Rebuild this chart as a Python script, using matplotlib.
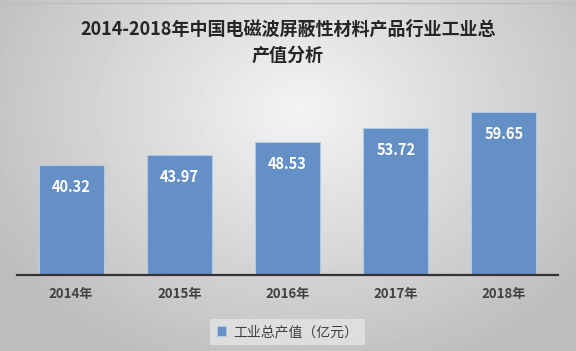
import numpy as np
import matplotlib
matplotlib.use('Agg')
import matplotlib.pyplot as plt

plt.rcParams['font.family'] = ['Noto Sans CJK SC', 'DejaVu Sans']

# ── Data ──────────────────────────────────────────────────────────────────────
years  = ['2014年', '2015年', '2016年', '2017年', '2018年']
values = [40.32, 43.97, 48.53, 53.72, 59.65]
series_name = '工业总产值（亿元）'
title = '2014-2018年中国电磁波屏蔽性材料产品行业工业总\n产值分析'

BAR   = '#6590c6'
EDGE  = '#b4c9e4'
FG    = '#404040'

fig = plt.figure(figsize=(5.76, 3.51), dpi=100)

# ── Radial gray background ────────────────────────────────────────────────────
bg = fig.add_axes([0, 0, 1, 1])
yy, xx = np.mgrid[0:351, 0:576]
r = np.sqrt(((xx - 300) / 330.0) ** 2 + ((yy - 110) / 260.0) ** 2)
shade = np.clip(0.955 - 0.20 * r, 0.74, 0.96)
bg.imshow(shade, cmap='gray', vmin=0, vmax=1, aspect='auto',
          extent=[0, 576, 351, 0])
bg.plot([0, 576], [2.5, 2.5], color='#bdbdbd', lw=1)
bg.set_xlim(0, 576)
bg.set_ylim(351, 0)
bg.axis('off')

fig.text(0.5, 0.88, title, ha='center', va='center', fontsize=13,
         fontweight='bold', color='#262626', linespacing=1.45)

# ── Bars ──────────────────────────────────────────────────────────────────────
ax = fig.add_axes([17 / 576, 76.3 / 351, 541 / 576, 191.3 / 351])
ax.patch.set_alpha(0)
x = np.arange(len(years))
bars = ax.bar(x, values, width=0.6, color=BAR, edgecolor=EDGE,
              linewidth=0.8, label=series_name, zorder=2)
for b, v in zip(bars, values):
    ax.annotate(f'{v:.2f}', xy=(b.get_x() + b.get_width() / 2, v),
                xytext=(0, -16), textcoords='offset points',
                ha='center', va='center', color='white',
                fontsize=10.5, fontweight='bold')

ax.set_xlim(-0.5, len(years) - 0.5)
ax.set_ylim(0, 70)
ax.set_xticks(x)
ax.set_xticklabels(years, fontsize=9.5, color=FG, fontweight='bold')
ax.tick_params(axis='x', length=0, pad=9)
ax.set_yticks([])
for s in ('top', 'right', 'left'):
    ax.spines[s].set_visible(False)
ax.spines['bottom'].set_color('#333333')
ax.spines['bottom'].set_linewidth(1.6)

leg = ax.legend(loc='center', bbox_to_anchor=(0.5, -0.30), frameon=True,
                fontsize=10, handlelength=0.7, handleheight=0.7,
                handletextpad=0.5, borderpad=0.45, fancybox=False)
leg.get_frame().set_facecolor('#e4e4e4')
leg.get_frame().set_edgecolor('none')
for t in leg.get_texts():
    t.set_color(FG)

fig.savefig('out.png', dpi=100)
